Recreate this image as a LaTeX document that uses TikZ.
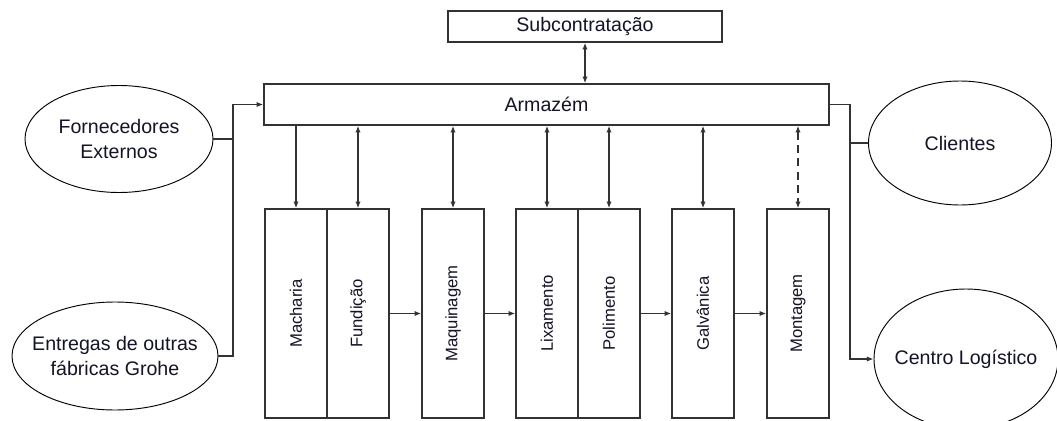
\documentclass[tikz,border=0pt]{standalone}
\usepackage{fontspec}
\setmainfont{Liberation Sans}
\usetikzlibrary{shapes.geometric,arrows.meta}
\definecolor{ln}{RGB}{50,50,50}
\definecolor{tx}{RGB}{20,20,40}
\begin{document}
\begin{tikzpicture}[x=0.75pt,y=-0.75pt,
  bigtext/.style={font=\fontsize{14.7}{18.5}\selectfont, text=tx},
  boxnode/.style={draw=ln, line width=1.1pt, rectangle, inner sep=0pt, bigtext},
  procbox/.style={draw=ln, line width=1.1pt, rectangle, inner sep=0pt,
     minimum width=46.5pt, minimum height=156.75pt},
  proctext/.style={rotate=90, font=\fontsize{12.5}{15}\selectfont, text=tx},
  oval/.style={draw=black, line width=0.7pt, ellipse, inner sep=0pt},
  ovaltext/.style={align=center, bigtext},
  conn/.style={draw=ln, line width=1.1pt},
  tip/.style={-{Latex[length=5pt,width=4pt]}},
  tips/.style={{Latex[length=5pt,width=4pt]}-{Latex[length=5pt,width=4pt]}}
]
\useasboundingbox (0,0) rectangle (1057,421);
\clip (0,0) rectangle (1057,421);
\fill[white] (0,0) rectangle (1057,421);

% top boxes
\node[boxnode, minimum width=205.5pt, minimum height=23.25pt] (S) at (585,26.5) {Subcontratação};
\node[boxnode, minimum width=423.75pt, minimum height=30.75pt] (A) at (546.5,104.5) {Armazém};

% process boxes
\node[procbox] (Ma) at (296,313.5) {};
\node[procbox] (Fu) at (358,313.5) {};
\node[procbox] (Mq) at (453,313.5) {};
\node[procbox] (Lx) at (547,313.5) {};
\node[procbox] (Po) at (609,313.5) {};
\node[procbox] (Ga) at (703,313.5) {};
\node[procbox] (Mo) at (798,313.5) {};
\node[proctext] (tMa) at (Ma) {Macharia};
\node[proctext] (tFu) at (Fu) {Fundição};
\node[proctext] (tMq) at (Mq) {Maquinagem};
\node[proctext] (tLx) at (Lx) {Lixamento};
\node[proctext] (tPo) at (Po) {Polimento};
\node[proctext] (tGa) at (Ga) {Galvânica};
\node[proctext] (tMo) at (Mo) {Montagem};

% ellipses
\node[oval, minimum width=141pt, minimum height=80.25pt] (F) at (119,139) {};
\node[ovaltext] (tF) at (F) {Fornecedores\\Externos};
\node[oval, minimum width=154.5pt, minimum height=81pt] (E) at (115,356) {};
\node[ovaltext] (tE) at (E) {Entregas de outras\\fábricas Grohe};
\node[oval, minimum width=137.25pt, minimum height=93pt] (C) at (960,143) {};
\node[ovaltext] (tC) at (C) {Clientes};
\node[oval, minimum width=138pt, minimum height=105pt] (L) at (966,359) {};
\node[ovaltext] (tL) at (L) {Centro Logístico};

% left connectors
\coordinate (jl) at (233,104.5);
\draw[conn, tip] (E.east) -| (jl) -- (A.west);
\draw[conn] (F.east) -- (F.east -| jl);

% right connectors
\coordinate (jr) at (850,104.5);
\draw[conn, tip] (A.east) -- (jr) |- (L.west);
\draw[conn] (jr |- C.west) -- (C.west);

% subcontracting
\draw[conn, tips] (S.south) -- (S.south |- A.north);

% warehouse to processes
\draw[conn, tip] (A.south -| Ma.north) -- (Ma.north);
\draw[conn, tips] (A.south -| Fu.north) -- (Fu.north);
\draw[conn, tips] (A.south -| Mq.north) -- (Mq.north);
\draw[conn, tips] (A.south -| Lx.north) -- (Lx.north);
\draw[conn, tips] (A.south -| Po.north) -- (Po.north);
\draw[conn, tips] (A.south -| Ga.north) -- (Ga.north);
\draw[conn, tips, dash pattern=on 6pt off 4pt] (A.south -| Mo.north) -- (Mo.north);

% process flow
\draw[conn, tip] (Fu.east) -- (Mq.west);
\draw[conn, tip] (Mq.east) -- (Lx.west);
\draw[conn, tip] (Po.east) -- (Ga.west);
\draw[conn, tip] (Ga.east) -- (Mo.west);
\end{tikzpicture}
\end{document}
